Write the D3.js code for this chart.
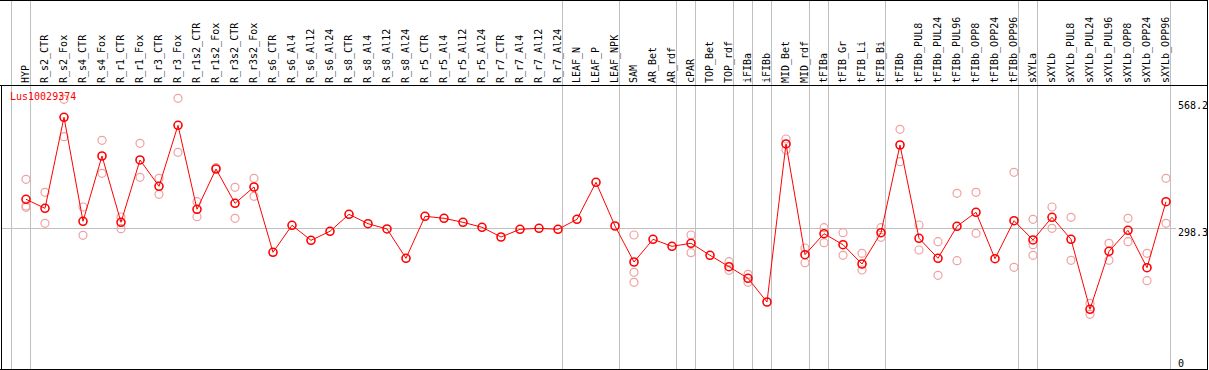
<!DOCTYPE html>
<html>
<head>
<meta charset="utf-8">
<script src="https://cdn.jsdelivr.net/npm/d3@7"></script>
<style>
  body { margin: 0; background: #fff; }
  text { font-family: "DejaVu Sans Mono", monospace; font-size: 10px; }
</style>
</head>
<body>
<script>
// sample names, one column each
const samples = ["HYP","R_s2_CTR","R_s2_Fox","R_s4_CTR","R_s4_Fox","R_r1_CTR","R_r1_Fox","R_r3_CTR","R_r3_Fox",
  "R_r1s2_CTR","R_r1s2_Fox","R_r3s2_CTR","R_r3s2_Fox","R_s6_CTR","R_s6_Al4","R_s6_Al12","R_s6_Al24",
  "R_s8_CTR","R_s8_Al4","R_s8_Al12","R_s8_Al24","R_r5_CTR","R_r5_Al4","R_r5_Al12","R_r5_Al24",
  "R_r7_CTR","R_r7_Al4","R_r7_Al12","R_r7_Al24","LEAF_N","LEAF_P","LEAF_NPK","SAM","AR_Bet","AR_rdf",
  "cPAR","TOP_Bet","TOP_rdf","iFIBa","iFIBb","MID_Bet","MID_rdf","tFIBa","tFIB_Gr","tFIB_Li","tFIB_Bi",
  "tFIBb","tFIBb_PUL8","tFIBb_PUL24","tFIBb_PUL96","tFIBb_OPP8","tFIBb_OPP24","tFIBb_OPP96",
  "sXYLa","sXYLb","sXYLb_PUL8","sXYLb_PUL24","sXYLb_PUL96","sXYLb_OPP8","sXYLb_OPP24","sXYLb_OPP96"];

// mean expression per sample
const means = [357.4,338.6,528.0,311.6,447.5,309.5,439.2,384.4,511.4,336.6,420.4,349.0,383.0,247.1,303.3,
  272.0,290.8,326.1,306.6,295.6,234.6,322.0,317.8,309.5,299.1,278.9,294.9,297.0,294.9,315.7,392.7,301.8,
  226.9,274.1,259.5,265.8,240.8,217.1,192.9,143.6,472.5,242.1,285.8,262.9,222.7,287.8,470.4,276.2,234.6,
  301.2,330.3,233.7,312.8,272.7,319.9,274.1,128.4,249.1,292.8,215.0,352.4];

// replicate values per sample (the ones visible off the mean)
const replicates = [[399.0,343.4,340.7],[371.9,307.4],[565.5,487.7],[341.3,282.4],[480.2,411.5],[320.5,296.2],
  [473.9,403.2],[401.1,367.8],[567.6,455.2],[352.4,321.2],[423.1],[382.3,317.8],[401.1,363.6],
  [],[],[],[],[],[],[],[],[],[],[],[],[],[],[],[],[],[],[],
  [283.1,205.4,184.6],[],[],[283.1,246.2],[],[227.5,209.6],[201.3,184.6],[],[482.9,460.0],[256.0,225.4],
  [298.3,267.0],[287.8,240.8],[245.0,210.2],[298.3,278.3],[503.1,435.6],[303.9,251.8],[269.1,199.2],
  [369.9,229.6],[371.9,286.6],[],[413.6,215.8],[315.7,262.9,240.8],[341.3,297.0],[319.9,230.4],
  [140.9,118.0],[265.8,230.4],[317.8,269.1],[245.0,187.9],[401.1,307.4]];

// first sample of each tissue group (grey separators)
const groupStarts = ["HYP","R_s2_CTR","LEAF_N","SAM","cPAR","TOP_Bet","iFIBa","iFIBb","MID_Bet",
  "tFIBa","tFIB_Gr","tFIBb","sXYLa","sXYLb"];

const yTicks = [0, 298.3, 568.2];
const geneName = "Lus10029374";

const W = 1209, H = 370;
const svg = d3.select("body").append("svg")
  .attr("width", W)
  .attr("height", H);

const x = d3.scaleBand()
  .domain(samples)
  .range([11, 11 + 19 * samples.length]);

const y = d3.scaleLinear()
  .domain([0, 568.2])
  .range([371, 98]);

const px = d => x(d) + 15;

//group separators
const sepX = groupStarts.map(g => x(g)).concat([x.range()[1]]);
svg.selectAll(".sep")
  .data(sepX)
  .enter()
  .append("line")
  .attr("x1", d => d + 0.5).attr("x2", d => d + 0.5)
  .attr("y1", 0).attr("y2", H)
  .attr("stroke", "#c0c0c0");

//middle reference line
svg.append("line")
  .attr("x1", 1).attr("x2", 1176)
  .attr("y1", Math.round(y(yTicks[1])) + 0.5).attr("y2", Math.round(y(yTicks[1])) + 0.5)
  .attr("stroke", "#c0c0c0");

//frame
svg.append("line").attr("x1", 0).attr("x2", W).attr("y1", 0.5).attr("y2", 0.5).attr("stroke", "#000");
svg.append("line").attr("x1", 0).attr("x2", W).attr("y1", 85.5).attr("y2", 85.5).attr("stroke", "#000");
svg.append("line").attr("x1", 0).attr("x2", W).attr("y1", 369.5).attr("y2", 369.5).attr("stroke", "#000");
svg.append("line").attr("x1", 1.5).attr("x2", 1.5).attr("y1", 85).attr("y2", H).attr("stroke", "#000");

//column labels
svg.selectAll(".lab")
  .data(samples)
  .enter()
  .append("text")
  .attr("transform", d => `translate(${x(d) + 18},83) rotate(-90)`)
  .attr("fill", "#000")
  .text(d => d);

//replicate points
const reps = [];
samples.forEach((s, i) => replicates[i].forEach(v => reps.push({s, v})));
svg.selectAll(".rep")
  .data(reps)
  .enter()
  .append("circle")
  .attr("cx", d => px(d.s))
  .attr("cy", d => y(d.v))
  .attr("r", 4)
  .attr("fill", "none")
  .attr("stroke", "#f0a0a0")
  .attr("stroke-width", 1.2);

//mean line
const line = d3.line()
  .x((d, i) => px(samples[i]))
  .y(d => y(d));
svg.append("path")
  .datum(means)
  .attr("d", line)
  .attr("fill", "none")
  .attr("stroke", "#ff0000")
  .attr("stroke-width", 1);

svg.selectAll(".mean")
  .data(means)
  .enter()
  .append("circle")
  .attr("cx", (d, i) => px(samples[i]))
  .attr("cy", d => y(d))
  .attr("r", 4)
  .attr("fill", "none")
  .attr("stroke", "#ff0000")
  .attr("stroke-width", 1.6);

//gene name
svg.append("text")
  .attr("x", 10).attr("y", 100)
  .attr("fill", "#ff0000")
  .text(geneName);

//value labels on the right
const tickOffset = [-4, 8, 11];
svg.selectAll(".tick")
  .data(yTicks)
  .enter()
  .append("text")
  .attr("x", 1178)
  .attr("y", (d, i) => y(d) + tickOffset[i])
  .attr("fill", "#000")
  .text(d => d === 0 ? "0" : d.toFixed(1));

// right border drawn last so it clips the top label like the original
svg.append("rect").attr("x", 1207).attr("y", 0).attr("width", 2).attr("height", H).attr("fill", "#fff");
svg.append("line").attr("x1", 1207.5).attr("x2", 1207.5).attr("y1", 0).attr("y2", H).attr("stroke", "#000");
</script>
</body>
</html>
